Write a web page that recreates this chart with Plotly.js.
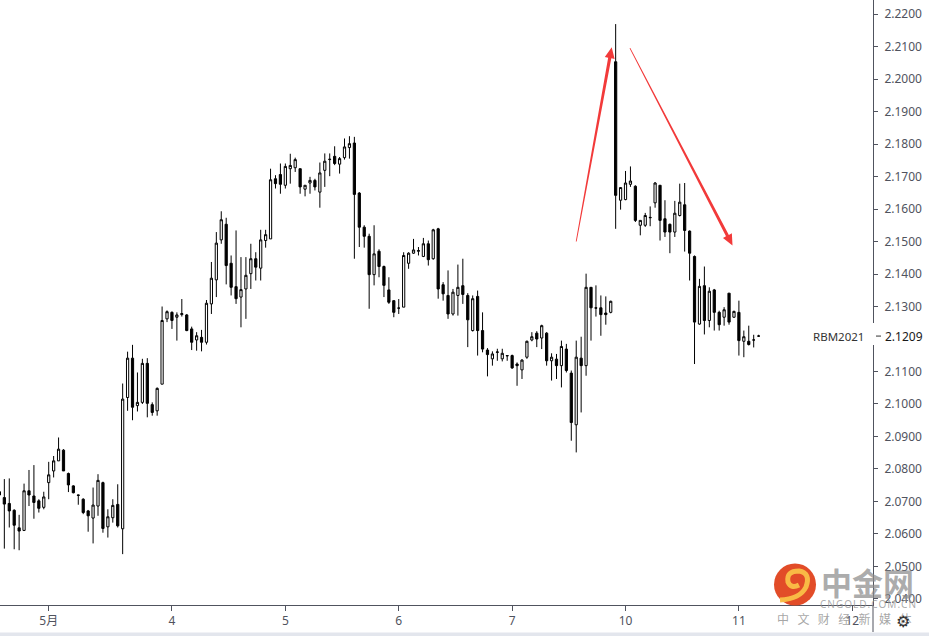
<!DOCTYPE html>
<html>
<head>
<meta charset="utf-8">
<script src="https://cdn.plot.ly/plotly-3.0.1.min.js"></script>
<style>html,body{margin:0;padding:0;background:#fff;}#chart{width:929px;height:636px;}</style>
</head>
<body>
<div id="chart"></div>
<script>
// ---- data (hourly candles, RBM2021) ----
const opens = [
2.0730,2.0712,2.0694,2.0673,2.0619,2.0611,2.0733,2.0717,2.0702,2.0682,
2.0758,2.0794,2.0825,2.0858,2.0786,2.0748,2.0720,2.0707,2.0671,2.0649,
2.0686,2.0758,2.0622,2.0650,2.0691,2.0616,2.1020,2.1141,2.0995,2.1005,
2.1125,2.0998,2.0979,2.1061,2.1262,2.1282,2.1267,2.1275,2.1274,2.1231,
2.1197,2.1205,2.1190,2.1308,2.1382,2.1505,2.1553,2.1433,2.1361,2.1329,
2.1354,2.1401,2.1447,2.1418,2.1503,2.1508,2.1693,2.1706,2.1673,2.1724,
2.1727,2.1724,2.1661,2.1680,2.1688,2.1652,2.1719,2.1752,2.1762,2.1738,
2.1758,2.1789,2.1803,2.1649,2.1544,2.1516,2.1398,2.1470,2.1423,2.1351,
2.1318,2.1295,2.1298,2.1433,2.1464,2.1470,2.1454,2.1493,2.1447,2.1539,
2.1367,2.1334,2.1277,2.1334,2.1364,2.1334,2.1226,2.1331,2.1226,2.1166,
2.1139,2.1159,2.1139,2.1148,2.1149,2.1123,2.1105,2.1144,2.1197,2.1218,
2.1203,2.1218,2.1133,2.1138,2.1118,2.1169,2.1095,2.0936,2.1141,2.1118,
2.1359,2.1296,2.1296,2.1280,2.1282,2.2053,2.1627,2.1629,2.1676,2.1670,
2.1550,2.1550,2.1573,2.1619,2.1673,2.1570,2.1553,2.1529,2.1580,2.1613,
2.1532,2.1454,2.1246,2.1364,2.1257,2.1351,2.1282,2.1267,2.1341,2.1267,
2.1282,2.1193,2.1193,2.1197,2.1209];
const highs = [
2.0745,2.0769,2.0771,2.0676,2.0659,2.0755,2.0797,2.0812,2.0707,2.0730,
2.0822,2.0840,2.0897,2.0861,2.0789,2.0750,2.0721,2.0710,2.0674,2.0743,
2.0784,2.0761,2.0676,2.0707,2.0753,2.1063,2.1161,2.1182,2.1097,2.1139,
2.1141,2.1005,2.1051,2.1300,2.1288,2.1285,2.1282,2.1323,2.1277,2.1238,
2.1221,2.1228,2.1320,2.1437,2.1529,2.1593,2.1573,2.1457,2.1534,2.1452,
2.1452,2.1493,2.1467,2.1536,2.1536,2.1724,2.1704,2.1740,2.1740,2.1770,
2.1758,2.1724,2.1673,2.1699,2.1693,2.1743,2.1771,2.1771,2.1793,2.1760,
2.1817,2.1824,2.1822,2.1652,2.1550,2.1524,2.1550,2.1476,2.1426,2.1390,
2.1318,2.1323,2.1467,2.1467,2.1508,2.1483,2.1511,2.1503,2.1539,2.1542,
2.1375,2.1411,2.1354,2.1429,2.1447,2.1341,2.1334,2.1349,2.1282,2.1172,
2.1162,2.1170,2.1170,2.1149,2.1152,2.1128,2.1138,2.1195,2.1221,2.1224,
2.1244,2.1221,2.1156,2.1154,2.1195,2.1185,2.1103,2.1195,2.1207,2.1401,
2.1359,2.1365,2.1334,2.1331,2.1318,2.2169,2.1666,2.1717,2.1731,2.1673,
2.1565,2.1588,2.1608,2.1683,2.1673,2.1627,2.1555,2.1625,2.1678,2.1680,
2.1534,2.1457,2.1385,2.1423,2.1359,2.1354,2.1287,2.1298,2.1341,2.1287,
2.1318,2.1226,2.1241,2.1213,2.1213];
const lows = [
2.0700,2.0555,2.0620,2.0553,2.0550,2.0609,2.0686,2.0647,2.0666,2.0676,
2.0707,2.0774,2.0825,2.0794,2.0729,2.0725,2.0690,2.0661,2.0607,2.0571,
2.0656,2.0604,2.0589,2.0635,2.0620,2.0538,2.0979,2.0950,2.0977,2.1000,
2.0959,2.0964,2.0964,2.1061,2.1252,2.1231,2.1195,2.1269,2.1224,2.1166,
2.1164,2.1162,2.1183,2.1277,2.1329,2.1493,2.1368,2.1334,2.1308,2.1236,
2.1262,2.1354,2.1380,2.1380,2.1481,2.1508,2.1663,2.1647,2.1663,2.1678,
2.1714,2.1647,2.1639,2.1647,2.1657,2.1604,2.1668,2.1701,2.1735,2.1709,
2.1752,2.1755,2.1447,2.1483,2.1481,2.1293,2.1365,2.1390,2.1329,2.1308,
2.1267,2.1277,2.1298,2.1416,2.1462,2.1457,2.1452,2.1426,2.1444,2.1324,
2.1318,2.1262,2.1272,2.1272,2.1308,2.1175,2.1223,2.1149,2.1159,2.1085,
2.1118,2.1133,2.1131,2.1133,2.1108,2.1056,2.1077,2.1139,2.1193,2.1175,
2.1169,2.1118,2.1072,2.1077,2.1051,2.1097,2.0887,2.0851,2.0974,2.1087,
2.1195,2.1269,2.1210,2.1244,2.1279,2.1539,2.1598,2.1627,2.1668,2.1560,
2.1519,2.1545,2.1547,2.1604,2.1503,2.1514,2.1464,2.1514,2.1577,2.1469,
2.1380,2.1123,2.1244,2.1214,2.1236,2.1226,2.1226,2.1241,2.1244,2.1265,
2.1149,2.1144,2.1180,2.1174,2.1207];
const closes = [
2.0720,2.0692,2.0671,2.0627,2.0609,2.0733,2.0720,2.0697,2.0679,2.0714,
2.0782,2.0825,2.0861,2.0794,2.0751,2.0727,2.0719,2.0666,2.0656,2.0689,
2.0765,2.0617,2.0653,2.0688,2.0625,2.1015,2.1141,2.0990,2.1005,2.1125,
2.1002,2.0974,2.1048,2.1257,2.1284,2.1257,2.1274,2.1278,2.1226,2.1190,
2.1210,2.1190,2.1310,2.1387,2.1495,2.1567,2.1426,2.1359,2.1324,2.1352,
2.1396,2.1447,2.1421,2.1505,2.1521,2.1690,2.1678,2.1676,2.1731,2.1734,
2.1752,2.1668,2.1673,2.1688,2.1668,2.1711,2.1747,2.1753,2.1740,2.1755,
2.1791,2.1801,2.1645,2.1544,2.1516,2.1398,2.1462,2.1423,2.1365,2.1313,
2.1282,2.1295,2.1457,2.1464,2.1474,2.1472,2.1493,2.1444,2.1536,2.1354,
2.1339,2.1277,2.1344,2.1359,2.1337,2.1259,2.1324,2.1226,2.1169,2.1152,
2.1154,2.1160,2.1156,2.1149,2.1111,2.1118,2.1135,2.1193,2.1207,2.1200,
2.1241,2.1133,2.1144,2.1118,2.1177,2.1103,2.0943,2.1144,2.1118,2.1359,
2.1296,2.1295,2.1275,2.1275,2.1316,2.1642,2.1666,2.1680,2.1686,2.1565,
2.1565,2.1580,2.1574,2.1680,2.1565,2.1529,2.1529,2.1587,2.1621,2.1534,
2.1464,2.1252,2.1362,2.1257,2.1347,2.1282,2.1244,2.1290,2.1252,2.1285,
2.1195,2.1207,2.1183,2.1197,2.1209];

// x-axis day labels (bar index where each label sits)
const dayTickIdx = [10, 35, 58, 81, 104, 127, 150, 173];
const dayTickText = ['5月', '4', '5', '6', '7', '10', '11', '12'];
// y-axis ticks
const priceTicks = [2.04,2.05,2.06,2.07,2.08,2.09,2.10,2.11,2.12,2.13,2.14,2.15,2.16,2.17,2.18,2.19,2.20,2.21,2.22];
const symbol = 'RBM2021';

// drawn arrows: [barIndex, price] anchors
const arrowUp = [[117.0, 2.1500], [124.2, 2.2098]];
const arrowDown = [[127.9, 2.2095], [148.7, 2.1488]];

// ---- geometry ----
const W = 873, H = 605;
const xr = [0.12, 177.2];
const yr = [2.03815, 2.22431];
function toPx(i, v) { return [(i - xr[0]) / (xr[1] - xr[0]) * W, (yr[1] - v) / (yr[1] - yr[0]) * H]; }
function fromPx(px, py) { return [xr[0] + px / W * (xr[1] - xr[0]), yr[1] - py / H * (yr[1] - yr[0])]; }
function pp(px, py) { return [px / W, (H - py) / H]; } // pixel -> paper

function arrowPath(a) {
  const S = toPx(a[0][0], a[0][1]), T = toPx(a[1][0], a[1][1]);
  const dx = T[0] - S[0], dy = T[1] - S[1], L = Math.hypot(dx, dy);
  const d = [dx / L, dy / L], n = [-d[1], d[0]];
  const hl = 11, hw = 5, w0 = 0.45, w1 = 1.6;
  const B = [T[0] - d[0] * hl, T[1] - d[1] * hl];
  const pts = [
    [S[0] + n[0] * w0, S[1] + n[1] * w0],
    [B[0] + n[0] * w1, B[1] + n[1] * w1],
    [B[0] + n[0] * hw, B[1] + n[1] * hw],
    T,
    [B[0] - n[0] * hw, B[1] - n[1] * hw],
    [B[0] - n[0] * w1, B[1] - n[1] * w1],
    [S[0] - n[0] * w0, S[1] - n[1] * w0]
  ].map(p => fromPx(p[0], p[1]));
  return 'M' + pts.map(p => p[0].toFixed(4) + ',' + p[1].toFixed(5)).join(' L') + ' Z';
}
function paperPath(cmds) {
  return cmds.map(c => c[0] + c.slice(1).map(p => { const q = pp(p[0], p[1]); return q[0].toFixed(5) + ',' + q[1].toFixed(5); }).join(' ')).join(' ');
}

const xs = opens.map((_, k) => k);
const lastClose = closes[closes.length - 1];
// the last-price label hides the regular tick next to it
const shownTicks = priceTicks.filter(t => Math.abs(t - lastClose) > 0.003);

const trace = {
  type: 'candlestick',
  x: xs, open: opens, high: highs, low: lows, close: closes,
  increasing: { line: { color: '#000000', width: 1 }, fillcolor: '#ffffff' },
  decreasing: { line: { color: '#000000', width: 1 }, fillcolor: '#000000' },
  whiskerwidth: 0,
  hoverinfo: 'skip',
  showlegend: false
};

const RED = '#f23a3a';
const axisColor = '#50535e';
const textColor = '#50535e';
const baseFont = 'Noto Sans, "Noto Sans CJK SC", sans-serif';

const c0 = pp(774, 605.5), c1 = pp(816, 563.5);
const spaced = s => s.split('').join('\u200a');

const layout = {
  width: 929, height: 636,
  margin: { l: 0, r: 56, t: 0, b: 31, pad: 0 },
  paper_bgcolor: '#ffffff', plot_bgcolor: '#ffffff',
  showlegend: false, hovermode: false, dragmode: false,
  boxgap: 0.36,
  font: { family: baseFont, size: 12, color: textColor },
  xaxis: {
    type: 'linear', range: xr, rangeslider: { visible: false },
    showgrid: false, zeroline: false,
    showline: true, linecolor: axisColor, linewidth: 1,
    ticks: 'outside', ticklen: 5, tickcolor: axisColor, tickwidth: 1,
    tickvals: dayTickIdx, ticktext: dayTickText,
    tickfont: { family: baseFont, size: 12, color: textColor },
    fixedrange: true
  },
  yaxis: {
    side: 'right', range: yr,
    showgrid: false, zeroline: false,
    showline: true, linecolor: axisColor, linewidth: 1,
    ticks: 'outside', ticklen: 4, tickcolor: axisColor, tickwidth: 1,
    tickvals: shownTicks, tickformat: '.4f',
    ticklabelstandoff: 4,
    tickfont: { family: baseFont, size: 12, color: textColor },
    fixedrange: true
  },
  shapes: [
    { type: 'path', xref: 'x', yref: 'y', path: arrowPath(arrowUp), fillcolor: RED, line: { width: 0 }, layer: 'above' },
    { type: 'path', xref: 'x', yref: 'y', path: arrowPath(arrowDown), fillcolor: RED, line: { width: 0 }, layer: 'above' },
    // last-price label backdrop on the axis
    { type: 'rect', xref: 'paper', yref: 'paper', x0: pp(871.5, 0)[0], x1: pp(929, 0)[0], y0: pp(0, 345)[1], y1: pp(0, 323)[1], fillcolor: '#ffffff', line: { width: 0 }, layer: 'above' },
    { type: 'line', xref: 'paper', yref: 'y', x0: pp(876, 0)[0], x1: pp(881, 0)[0], y0: lastClose, y1: lastClose, line: { color: '#333333', width: 1 }, layer: 'above' },
    // axis line continuing to bottom
    { type: 'line', xref: 'paper', yref: 'paper', x0: 1, x1: 1, y0: pp(0, 605)[1], y1: pp(0, 632)[1], line: { color: axisColor, width: 1 }, layer: 'above' },
    // light band at the very bottom
    { type: 'rect', xref: 'paper', yref: 'paper', x0: pp(0, 0)[0], x1: pp(929, 0)[0], y0: pp(0, 636)[1], y1: pp(0, 632.5)[1], fillcolor: '#e3e6ed', line: { width: 0 }, layer: 'above' },
    // watermark logo
    { type: 'circle', xref: 'paper', yref: 'paper', x0: c0[0], y0: c0[1], x1: c1[0], y1: c1[1], fillcolor: 'rgba(224,66,28,0.95)', line: { width: 0 }, layer: 'above' },
    { type: 'path', xref: 'paper', yref: 'paper',
      path: paperPath([['M', [780, 600]], ['Q', [800, 599], [806, 587]], ['Q', [811, 573], [799, 571]], ['Q', [786, 571], [788, 582]], ['Q', [791, 589], [799, 585]]]),
      line: { color: 'rgba(250,190,70,0.97)', width: 5 }, fillcolor: 'rgba(0,0,0,0)', layer: 'above' }
  ],
  annotations: [
    { xref: 'paper', yref: 'y', x: pp(866, 0)[0], y: lastClose, xanchor: 'right', yanchor: 'middle', text: symbol, showarrow: false, font: { family: baseFont, size: 11.5, color: '#333333' } },
    { xref: 'paper', yref: 'y', x: pp(883, 0)[0], y: lastClose, xanchor: 'left', yanchor: 'middle', text: lastClose.toFixed(4), showarrow: false, font: { family: baseFont, size: 12, color: '#1a1a1a' } },
    { xref: 'paper', yref: 'paper', x: pp(867, 0)[0], y: pp(0, 581)[1], xanchor: 'center', yanchor: 'middle', text: '<b>中金网</b>', showarrow: false, font: { family: '"Noto Sans CJK SC", sans-serif', size: 31, color: 'rgba(140,140,140,0.72)' } },
    { xref: 'paper', yref: 'paper', x: pp(868, 0)[0], y: pp(0, 604)[1], xanchor: 'center', yanchor: 'middle', text: spaced('CNGOLD.COM.CN'), showarrow: false, font: { family: baseFont, size: 10, color: 'rgba(150,150,150,0.8)' } },
    { xref: 'paper', yref: 'paper', x: pp(844, 0)[0], y: pp(0, 618.5)[1], xanchor: 'center', yanchor: 'middle', text: '中\u2002\u2009文\u2002\u2009财\u2002\u2009经\u2002\u2009新\u2002\u2009媒\u2002\u2009体', showarrow: false, font: { family: '"Noto Sans CJK SC", sans-serif', size: 12, color: 'rgba(150,150,150,0.85)' } },
    { xref: 'paper', yref: 'paper', x: pp(903, 0)[0], y: pp(0, 621)[1], xanchor: 'center', yanchor: 'middle', text: '\u2699', showarrow: false, font: { family: 'DejaVu Sans', size: 16, color: '#333333' } }
  ]
};

Plotly.newPlot('chart', [trace], layout, { staticPlot: true, displayModeBar: false });
</script>
</body>
</html>
